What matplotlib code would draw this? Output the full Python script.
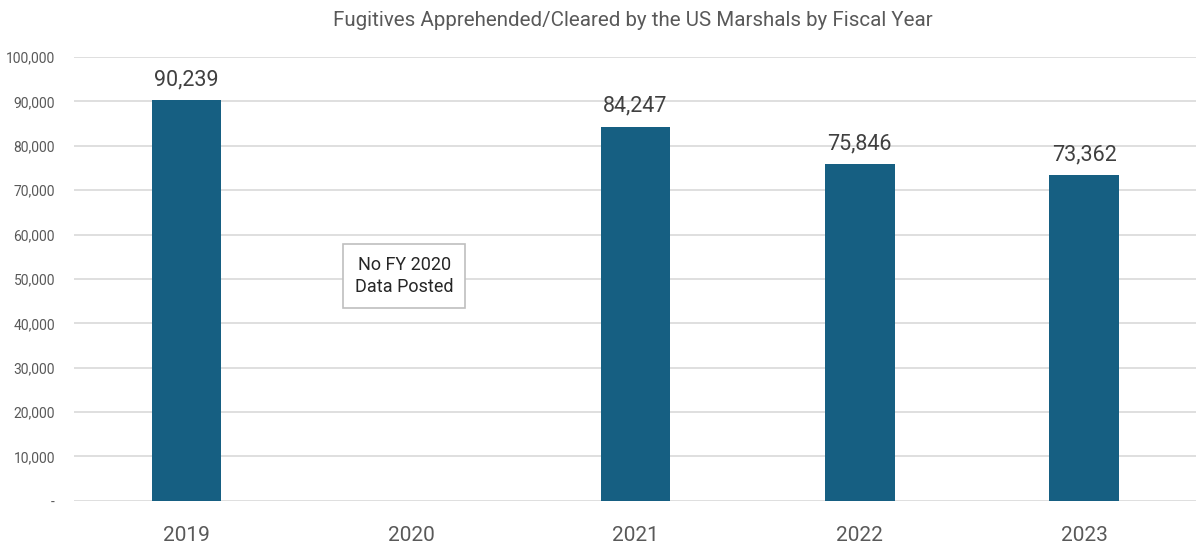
import matplotlib
matplotlib.use("Agg")
import matplotlib.pyplot as plt
from matplotlib.ticker import FuncFormatter, MultipleLocator

plt.rcParams["font.family"] = ["Roboto", "DejaVu Sans"]

years = ["2019", "2020", "2021", "2022", "2023"]
fugitives = [90239, None, 84247, 75846, 73362]
note_text = "No FY 2020\nData Posted"

BAR_COLOR = "#165F82"
TEXT_GREY = "#595959"

fig = plt.figure(figsize=(12, 5.48), dpi=100)
ax = fig.add_axes([0.062, 0.086, 0.935, 0.81])

xs = list(range(len(years)))
for x, v in zip(xs, fugitives):
    if v is None:
        continue
    ax.bar(x, v, width=0.31, color=BAR_COLOR, zorder=3)
    ax.text(x, v + 2300, f"{v:,}", ha="center", va="bottom",
            fontsize=15.5, color="#404040", zorder=4)

ax.set_xlim(-0.5, len(years) - 0.5)
ax.set_ylim(0, 100000)
ax.yaxis.set_major_locator(MultipleLocator(10000))
ax.yaxis.set_major_formatter(FuncFormatter(lambda v, p: "-" if v == 0 else f"{v:,.0f}"))
ax.set_xticks(xs)
ax.set_xticklabels(years)
ax.tick_params(axis="x", length=0, labelsize=15, labelcolor=TEXT_GREY, pad=18)
ax.tick_params(axis="y", length=0, labelsize=10, labelcolor=TEXT_GREY, pad=14)
ax.grid(axis="y", color="#D9D9D9", linewidth=1.2, zorder=0)
ax.set_axisbelow(True)
for s in ax.spines.values():
    s.set_visible(False)

ax.text(0.97, 50700, note_text, ha="center", va="center", fontsize=13,
        color="#262626", linespacing=1.3,
        bbox=dict(boxstyle="square,pad=0.65", facecolor="white",
                  edgecolor="#BFBFBF", linewidth=1.2), zorder=5)

fig.suptitle("Fugitives Apprehended/Cleared by the US Marshals by Fiscal Year",
             x=0.527, y=0.98, fontsize=14.8, color=TEXT_GREY)

fig.savefig("out.png", dpi=100)
